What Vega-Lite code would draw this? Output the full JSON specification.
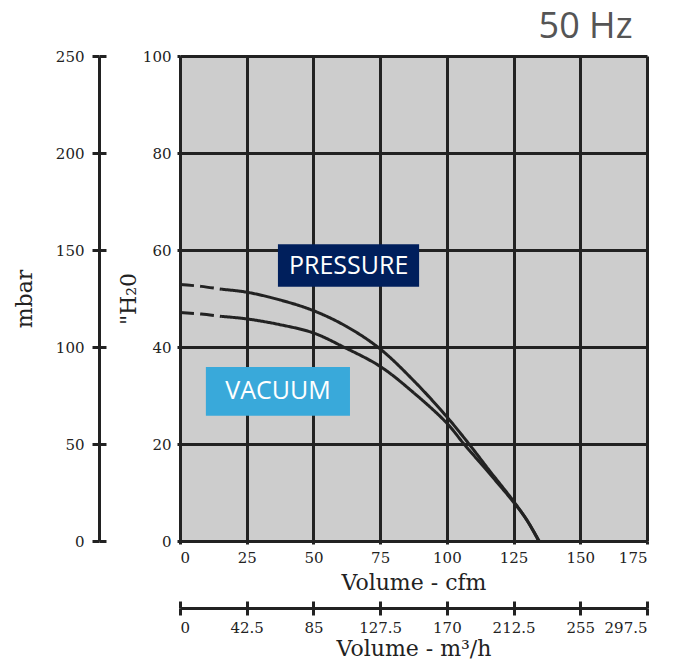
{
  "$schema": "https://vega.github.io/schema/vega-lite/v6.json",
  "width": 467,
  "height": 485,
  "autosize": {"type": "none"},
  "padding": {"left": 180, "top": 56, "right": 26, "bottom": 122},
  "background": "white",
  "config": {
    "view": {"fill": "#cdcdcd", "stroke": null},
    "axis": {
      "labelFont": "DejaVu Serif",
      "titleFont": "DejaVu Serif",
      "labelColor": "#222222",
      "titleColor": "#222222",
      "labelFontSize": 15,
      "titleFontSize": 22,
      "titleFontWeight": "normal",
      "domainColor": "#222222",
      "tickColor": "#222222",
      "gridColor": "#222222",
      "domainWidth": 3,
      "tickWidth": 3,
      "gridWidth": 3,
      "gridOpacity": 1
    }
  },
  "title": {
    "text": "50 Hz",
    "anchor": "end",
    "font": "Open Sans",
    "fontSize": 36,
    "fontWeight": "normal",
    "color": "#555555",
    "offset": 3,
    "dx": -16
  },
  "datasets": {
    "curves": [
      {"series": "Pressure", "seg": "dash", "cfm": 0, "h2o": 52.9},
      {"series": "Pressure", "seg": "dash", "cfm": 8, "h2o": 52.5},
      {"series": "Pressure", "seg": "dash", "cfm": 15.7, "h2o": 51.9},
      {"series": "Pressure", "seg": "solid", "cfm": 15.7, "h2o": 51.9},
      {"series": "Pressure", "seg": "solid", "cfm": 25, "h2o": 51.3},
      {"series": "Pressure", "seg": "solid", "cfm": 37.5, "h2o": 49.7},
      {"series": "Pressure", "seg": "solid", "cfm": 50, "h2o": 47.5},
      {"series": "Pressure", "seg": "solid", "cfm": 62.5, "h2o": 44.2},
      {"series": "Pressure", "seg": "solid", "cfm": 75, "h2o": 39.6},
      {"series": "Pressure", "seg": "solid", "cfm": 87.5, "h2o": 33.1},
      {"series": "Pressure", "seg": "solid", "cfm": 100, "h2o": 25.6},
      {"series": "Pressure", "seg": "solid", "cfm": 108.3, "h2o": 20},
      {"series": "Pressure", "seg": "solid", "cfm": 116, "h2o": 14.5},
      {"series": "Pressure", "seg": "solid", "cfm": 125, "h2o": 8.2},
      {"series": "Pressure", "seg": "solid", "cfm": 130, "h2o": 4.3},
      {"series": "Pressure", "seg": "solid", "cfm": 134.6, "h2o": 0},
      {"series": "Vacuum", "seg": "dash", "cfm": 0, "h2o": 47.1},
      {"series": "Vacuum", "seg": "dash", "cfm": 8, "h2o": 46.8},
      {"series": "Vacuum", "seg": "dash", "cfm": 15.7, "h2o": 46.3},
      {"series": "Vacuum", "seg": "solid", "cfm": 15.7, "h2o": 46.3},
      {"series": "Vacuum", "seg": "solid", "cfm": 25, "h2o": 45.8},
      {"series": "Vacuum", "seg": "solid", "cfm": 37.5, "h2o": 44.6},
      {"series": "Vacuum", "seg": "solid", "cfm": 50, "h2o": 42.9},
      {"series": "Vacuum", "seg": "solid", "cfm": 61.3, "h2o": 40},
      {"series": "Vacuum", "seg": "solid", "cfm": 75, "h2o": 36.0},
      {"series": "Vacuum", "seg": "solid", "cfm": 87.5, "h2o": 30.6},
      {"series": "Vacuum", "seg": "solid", "cfm": 100, "h2o": 24.3},
      {"series": "Vacuum", "seg": "solid", "cfm": 106.4, "h2o": 20},
      {"series": "Vacuum", "seg": "solid", "cfm": 116, "h2o": 13.9},
      {"series": "Vacuum", "seg": "solid", "cfm": 125, "h2o": 8.0},
      {"series": "Vacuum", "seg": "solid", "cfm": 130, "h2o": 4.3},
      {"series": "Vacuum", "seg": "solid", "cfm": 134.4, "h2o": 0}
    ],
    "labels": [
      {"label": "PRESSURE", "x1": 36.7, "x2": 89.6, "y1": 52.4, "y2": 61.2, "xc": 63.2, "yc": 56.8},
      {"label": "VACUUM", "x1": 9.7, "x2": 63.7, "y1": 25.8, "y2": 35.9, "xc": 36.7, "yc": 30.85}
    ],
    "secondary": [
      {"m3h": 0, "mbar": 0},
      {"m3h": 297.5, "mbar": 250}
    ]
  },
  "layer": [
    {
      "layer": [
        {
          "data": {"name": "curves"},
          "mark": {"type": "line", "interpolate": "catmull-rom", "color": "#222222", "strokeWidth": 3},
          "encoding": {
            "x": {
              "field": "cfm", "type": "quantitative",
              "scale": {"domain": [0, 175], "nice": false, "zero": false},
              "axis": {
                "orient": "bottom",
                "values": [0, 25, 50, 75, 100, 125, 150, 175],
                "grid": true,
                "tickSize": 3,
                "labelPadding": 6,
                "title": "Volume - cfm",
                "titlePadding": 7
              }
            },
            "y": {
              "field": "h2o", "type": "quantitative",
              "scale": {"domain": [0, 100], "nice": false, "zero": false},
              "axis": {
                "orient": "left",
                "values": [0, 20, 40, 60, 80, 100],
                "grid": true,
                "tickSize": 3,
                "labelPadding": 6,
                "title": "\"H₂0",
                "titlePadding": 2
              }
            },
            "detail": {"field": "series"},
            "strokeDash": {
              "field": "seg", "type": "nominal",
              "scale": {"domain": ["dash", "solid"], "range": [[14, 6], [1, 0]]},
              "legend": null
            }
          }
        },
        {
          "data": {"name": "labels"},
          "mark": {"type": "rect"},
          "encoding": {
            "x": {"field": "x1", "type": "quantitative"},
            "x2": {"field": "x2"},
            "y": {"field": "y1", "type": "quantitative"},
            "y2": {"field": "y2"},
            "fill": {
              "field": "label", "type": "nominal",
              "scale": {"domain": ["PRESSURE", "VACUUM"], "range": ["#001f5c", "#39a9da"]},
              "legend": null
            }
          }
        },
        {
          "data": {"name": "labels"},
          "mark": {"type": "text", "font": "Open Sans", "fontSize": 25, "color": "white", "baseline": "middle", "align": "center"},
          "encoding": {
            "x": {"field": "xc", "type": "quantitative"},
            "y": {"field": "yc", "type": "quantitative"},
            "text": {"field": "label"}
          }
        }
      ]
    },
    {
      "data": {"name": "secondary"},
      "mark": {"type": "point", "opacity": 0, "size": 1},
      "encoding": {
        "x": {
          "field": "m3h", "type": "quantitative",
          "scale": {"domain": [0, 297.5], "nice": false, "zero": false},
          "axis": {
            "orient": "bottom",
            "offset": 67,
            "values": [0, 42.5, 85, 127.5, 170, 212.5, 255, 297.5],
            "labelExpr": "'' + datum.value",
            "grid": false,
            "tickSize": 7,
            "labelPadding": 5,
            "title": "Volume - m³/h",
            "titlePadding": 3
          }
        },
        "y": {
          "field": "mbar", "type": "quantitative",
          "scale": {"domain": [0, 250], "nice": false, "zero": false},
          "axis": {
            "orient": "left",
            "offset": 81,
            "values": [0, 50, 100, 150, 200, 250],
            "grid": false,
            "tickSize": 7,
            "labelPadding": 8,
            "title": "mbar",
            "titlePadding": 19
          }
        }
      }
    },
    {
      "data": {"name": "secondary"},
      "mark": {"type": "point", "opacity": 0, "size": 1},
      "encoding": {
        "x": {
          "field": "m3h", "type": "quantitative",
          "scale": {"domain": [0, 297.5], "nice": false, "zero": false},
          "axis": {
            "orient": "bottom",
            "offset": 60,
            "values": [0, 42.5, 85, 127.5, 170, 212.5, 255, 297.5],
            "grid": false,
            "domain": false,
            "labels": false,
            "tickSize": 7,
            "title": null
          }
        },
        "y": {
          "field": "mbar", "type": "quantitative",
          "scale": {"domain": [0, 250], "nice": false, "zero": false},
          "axis": {
            "orient": "left",
            "offset": 74,
            "values": [0, 50, 100, 150, 200, 250],
            "grid": false,
            "domain": false,
            "labels": false,
            "tickSize": 7,
            "title": null
          }
        }
      }
    }
  ],
  "resolve": {"scale": {"x": "independent", "y": "independent"}}
}
